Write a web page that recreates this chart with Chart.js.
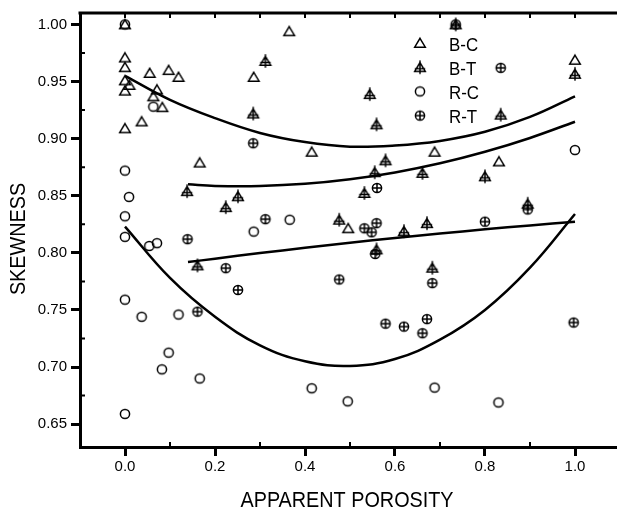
<!DOCTYPE html>
<html>
<head>
<meta charset="utf-8">
<script src="https://cdn.jsdelivr.net/npm/chart.js@4.4.1/dist/chart.umd.min.js"></script>
<style>
  html, body { margin: 0; padding: 0; background: #fff; overflow: hidden; }
  canvas { display: block; }
</style>
</head>
<body>
<canvas id="skewChart" width="625" height="510"></canvas>
<script>
// Tick labels
const xTicks = [0, 0.2, 0.4, 0.6, 0.8, 1.0];
const yTicks = [0.65, 0.70, 0.75, 0.80, 0.85, 0.90, 0.95, 1.00];
const xMinor = [0.1, 0.3, 0.5, 0.7, 0.9];
const yMinor = [0.675, 0.725, 0.775, 0.825, 0.875, 0.925, 0.975];
const topTicks = [0, 0.1, 0.2, 0.3, 0.4, 0.5, 0.6, 0.7, 0.8, 0.9, 1.0];

// B-C (open triangles)
const bcX = [0, 0, 0, 0, 0.01, 0, 0, 0.037, 0.055, 0.071, 0.063, 0.083, 0.097, 0.119, 0.166, 0.286, 0.365, 0.415, 0.496, 0.688, 0.831, 1.0];
const bcY = [1.0, 0.971, 0.9625, 0.951, 0.947, 0.942, 0.909, 0.915, 0.9575, 0.943, 0.937, 0.9275, 0.960, 0.954, 0.879, 0.954, 0.994, 0.8885, 0.8215, 0.8885, 0.880, 0.969];

// B-T (crossed triangles)
const btX = [0.138, 0.251, 0.224, 0.161, 0.285, 0.312, 0.544, 0.559, 0.579, 0.555, 0.661, 0.532, 0.476, 0.620, 0.671, 0.559, 0.683, 0.80, 0.895, 0.835, 1.0, 0.735];
const btY = [0.854, 0.8495, 0.840, 0.789, 0.922, 0.968, 0.939, 0.9125, 0.881, 0.8706, 0.870, 0.8524, 0.829, 0.819, 0.826, 0.803, 0.787, 0.867, 0.843, 0.921, 0.9567, 1.0];

// R-C (open circles)
const rcX = [0, 0.063, 0, 0.009, 0, 0, 0.054, 0.071, 0.286, 0.366, 0, 0.037, 0.119, 0.097, 0.082, 0.166, 0, 0.415, 0.495, 0.688, 0.83, 1.0];
const rcY = [1.0, 0.928, 0.872, 0.849, 0.832, 0.814, 0.806, 0.8085, 0.8186, 0.829, 0.759, 0.744, 0.746, 0.7126, 0.698, 0.690, 0.659, 0.6814, 0.670, 0.682, 0.669, 0.890];

// R-T (crossed circles)
const rtX = [0.285, 0.312, 0.139, 0.224, 0.251, 0.161, 0.56, 0.532, 0.559, 0.548, 0.556, 0.683, 0.476, 0.579, 0.620, 0.671, 0.661, 0.895, 0.80, 0.997, 0.835, 0.735];
const rtY = [0.896, 0.8295, 0.812, 0.7866, 0.7675, 0.7485, 0.8568, 0.8215, 0.826, 0.818, 0.799, 0.7735, 0.7767, 0.738, 0.7354, 0.742, 0.7296, 0.838, 0.8273, 0.739, 0.962, 1.0];

// Fitted curves
const fitX = [0, 0.1, 0.2, 0.3, 0.4, 0.5, 0.6, 0.7, 0.8, 0.9, 1.0];
const fitXT = [0.14, 0.2, 0.3, 0.4, 0.5, 0.6, 0.7, 0.8, 0.9, 1.0];
const bcFit = [0.955, 0.934, 0.918, 0.905, 0.897, 0.893, 0.894, 0.898, 0.906, 0.919, 0.937];
const btFit = [0.860, 0.8586, 0.8585, 0.8604, 0.8644, 0.8704, 0.8784, 0.8885, 0.9006, 0.9148];
const rtFit = [0.7919, 0.7949, 0.7998, 0.8044, 0.8088, 0.8130, 0.8169, 0.8206, 0.8240, 0.8273];
const rcFit = [0.823, 0.778, 0.744, 0.719, 0.705, 0.701, 0.707, 0.724, 0.750, 0.787, 0.834];

const seriesNames = ['B-C', 'B-T', 'R-C', 'R-T'];

const zip = (xs, ys) => xs.map((v, i) => ({ x: v, y: ys[i] }));

// marker glyphs drawn into small canvases
function makeMarker(kind) {
    const s = 16, m = 8;
    const c = document.createElement('canvas');
    c.width = s; c.height = s;
    const g = c.getContext('2d');
    g.strokeStyle = '#000';
    g.lineWidth = 1.5;
    g.beginPath();
    if (kind === 'tri' || kind === 'triX') {
        g.moveTo(m, m - 4.7);
        g.lineTo(m + 5.3, m + 4.2);
        g.lineTo(m - 5.3, m + 4.2);
        g.closePath();
    }
    if (kind === 'triX') {
        g.moveTo(m, m - 6.8);
        g.lineTo(m, m + 6.8);
        g.moveTo(m - 5.2, m + 1.5);
        g.lineTo(m + 5.2, m + 1.5);
    }
    if (kind === 'circ' || kind === 'circX') {
        g.arc(m, m, 4.6, 0, Math.PI * 2);
    }
    if (kind === 'circX') {
        g.moveTo(m - 4.6, m); g.lineTo(m + 4.6, m);
        g.moveTo(m, m - 4.6); g.lineTo(m, m + 4.6);
    }
    g.stroke();
    return c;
}
const markers = [makeMarker('tri'), makeMarker('triX'), makeMarker('circ'), makeMarker('circX')];

const pointSet = (label, xs, ys, mk) => ({
    label: label,
    data: zip(xs, ys),
    pointStyle: mk,
    showLine: false
});
const fitSet = (xs, ys) => ({
    data: zip(xs, ys),
    showLine: true,
    pointRadius: 0,
    borderColor: '#000',
    borderWidth: 2.5,
    tension: 0.4,
    fill: false
});

// frame, inner ticks, titles and legend
const framePlugin = {
    id: 'frame',
    afterDraw(chart) {
        const { ctx, chartArea: a, scales: { x, y } } = chart;
        ctx.save();
        ctx.strokeStyle = '#000';
        ctx.fillStyle = '#000';
        ctx.lineWidth = 3;
        ctx.beginPath();
        ctx.moveTo(a.left - 1.5, a.top);
        ctx.lineTo(a.right + 5, a.top);
        ctx.stroke();

        ctx.lineWidth = 2;
        ctx.beginPath();
        topTicks.forEach(v => {
            const px = x.getPixelForValue(v);
            ctx.moveTo(px, a.top); ctx.lineTo(px, a.top + 5);
        });
        xMinor.forEach(v => {
            const px = x.getPixelForValue(v);
            ctx.moveTo(px, a.bottom); ctx.lineTo(px, a.bottom - 5);
        });
        yMinor.forEach(v => {
            const py = y.getPixelForValue(v);
            ctx.moveTo(a.left, py); ctx.lineTo(a.left + 5, py);
        });
        ctx.stroke();

        // axis titles (narrow face)
        ctx.font = '22px "Liberation Sans", Arial, sans-serif';
        ctx.textAlign = 'center';
        ctx.textBaseline = 'alphabetic';
        ctx.save();
        ctx.translate((a.left + a.right - 6) / 2, 506.5);
        ctx.scale(0.9, 1);
        ctx.fillText('APPARENT POROSITY', 0, 0);
        ctx.restore();
        ctx.save();
        ctx.translate(25, 239);
        ctx.rotate(-Math.PI / 2);
        ctx.scale(0.9, 1);
        ctx.fillText('SKEWNESS', 0, 0);
        ctx.restore();

        // legend
        ctx.font = '19px "Liberation Sans", Arial, sans-serif';
        ctx.textAlign = 'left';
        seriesNames.forEach((name, i) => {
            const ry = a.top + 30 + i * 24.2;
            const mk = markers[i];
            ctx.drawImage(mk, a.left + 340 - mk.width / 2, ry - mk.height / 2);
            ctx.save();
            ctx.translate(a.left + 369, ry + 7.6);
            ctx.scale(0.89, 1);
            ctx.fillText(name, 0, 0);
            ctx.restore();
        });
        ctx.restore();
    }
};

const tickFont = { family: '"Liberation Sans", Arial, sans-serif', size: 15 };

new Chart(document.getElementById('skewChart'), {
    type: 'scatter',
    data: {
        datasets: [
            pointSet(seriesNames[0], bcX, bcY, markers[0]),
            pointSet(seriesNames[1], btX, btY, markers[1]),
            pointSet(seriesNames[2], rcX, rcY, markers[2]),
            pointSet(seriesNames[3], rtX, rtY, markers[3]),
            fitSet(fitX, bcFit),
            fitSet(fitXT, btFit),
            fitSet(fitXT, rtFit),
            fitSet(fitX, rcFit)
        ]
    },
    options: {
        responsive: false,
        animation: false,
        devicePixelRatio: 1,
        layout: { padding: { top: 7, right: 3, left: 0, bottom: 0 } },
        plugins: { legend: { display: false }, tooltip: { enabled: false } },
        scales: {
            x: {
                type: 'linear',
                min: -0.1,
                max: 1.1,
                afterBuildTicks: s => { s.ticks = xTicks.map(v => ({ value: v })); },
                afterFit: s => { s.height = 63; },
                ticks: {
                    color: '#000',
                    font: tickFont,
                    padding: 2,
                    callback: v => v.toFixed(1)
                },
                grid: { drawOnChartArea: false, tickLength: 9, tickWidth: 3, tickColor: '#000' },
                border: { color: '#000', width: 3 }
            },
            y: {
                type: 'linear',
                min: 0.63,
                max: 1.01,
                afterBuildTicks: s => { s.ticks = yTicks.map(v => ({ value: v })); },
                afterFit: s => { s.width = 80; },
                ticks: {
                    color: '#000',
                    font: tickFont,
                    padding: 4,
                    callback: v => v.toFixed(2)
                },
                grid: { drawOnChartArea: false, tickLength: 9, tickWidth: 3, tickColor: '#000' },
                border: { color: '#000', width: 3 }
            }
        }
    },
    plugins: [framePlugin]
});
</script>
</body>
</html>
